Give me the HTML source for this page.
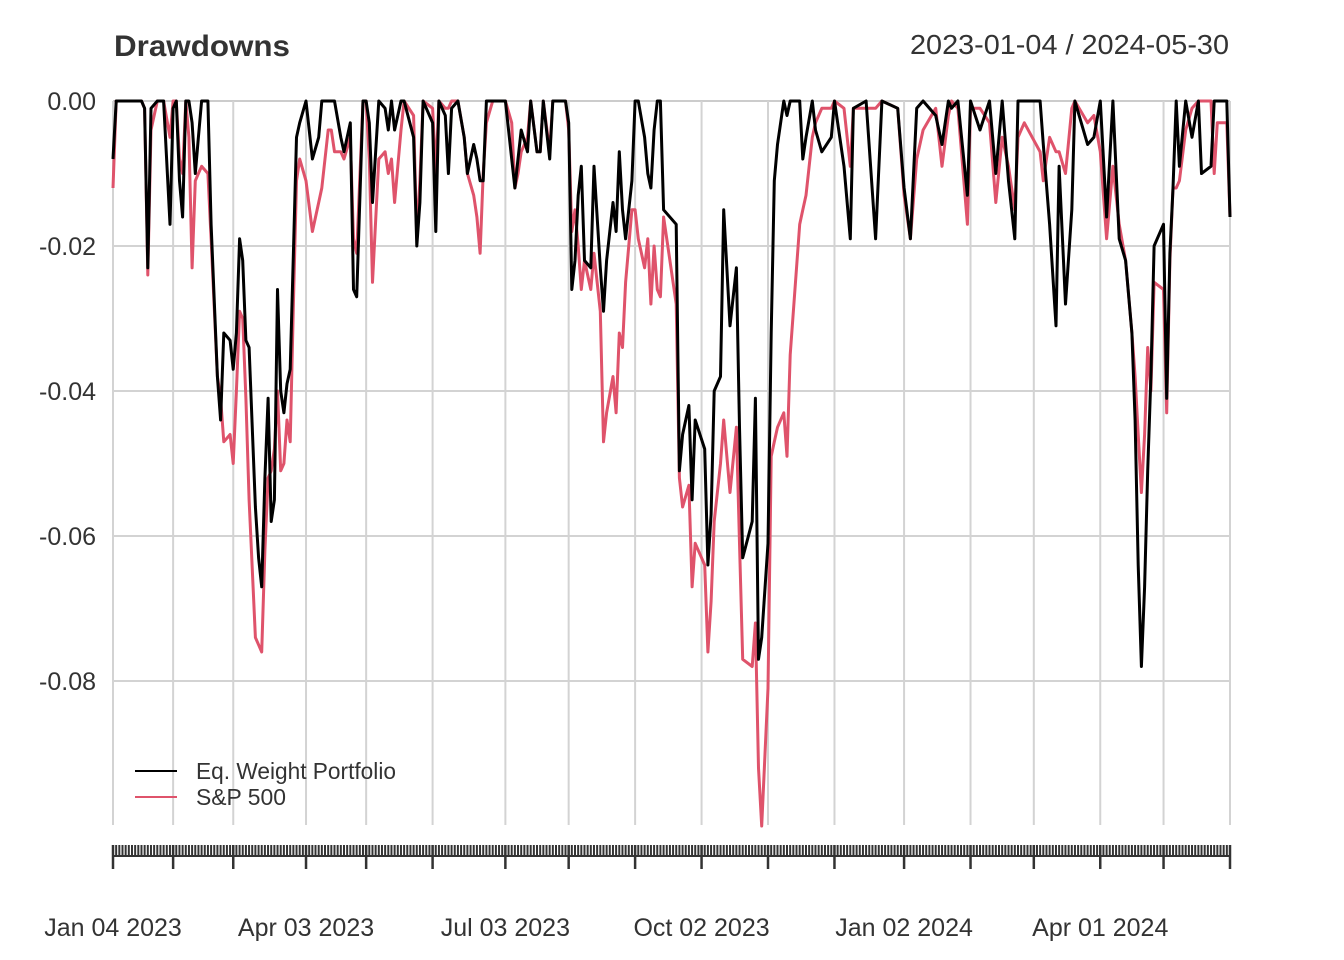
<!DOCTYPE html>
<html><head><meta charset="utf-8">
<style>
html,body{margin:0;padding:0;background:#fff;}
svg{display:block;font-family:"Liberation Sans",Arial,sans-serif;}
</style></head>
<body>
<svg id="chart" width="1344" height="960" viewBox="0 0 1344 960" xmlns="http://www.w3.org/2000/svg">
<text x="114" y="56" font-size="30" font-weight="bold" fill="#333" textLength="176" lengthAdjust="spacingAndGlyphs">Drawdowns</text>
<text x="1229" y="54" font-size="28" fill="#333" text-anchor="end" textLength="319" lengthAdjust="spacingAndGlyphs">2023-01-04 / 2024-05-30</text>
<g id="grid"></g><g id="series"></g><g id="axes"></g>
<g>
<line x1="135" y1="771" x2="177" y2="771" stroke="#000" stroke-width="2"/>
<text x="196" y="779" font-size="23" fill="#333" textLength="200" lengthAdjust="spacingAndGlyphs">Eq. Weight Portfolio</text>
<line x1="135" y1="797" x2="177" y2="797" stroke="#DF536B" stroke-width="2"/>
<text x="196" y="805" font-size="23" fill="#333" textLength="90" lengthAdjust="spacingAndGlyphs">S&amp;P 500</text>
</g>
</svg>
<script>
const days=[0,1,9,10,11,12,14,16,18,19,20,21,22,23,24,25,26,27,28,30,31,33,34,35,37,38,39,40,41,42,43,45,46,47,48,49,50,51,52,53,54,55,56,57,58,59,61,63,65,66,68,69,70,72,73,75,76,77,79,80,81,82,84,86,87,88,89,91,92,
95,96,97,98,101,102,103,105,106,107,109,111,112,114,115,116,117,118,120,124,126,127,128,129,131,132,134,135,136,138,139,143,144,145,146,147,148,149,151,152,154,155,156,158,159,160,161,162,164,165,166,168,169,170,171,172,173,
174,178,179,180,182,183,184,187,188,189,190,192,193,195,197,198,199,202,203,204,205,207,208,209,210,212,213,214,217,218,219,221,222,224,227,228,231,233,234,238,241,243,248,250,252,254,256,260,262,264,
265,267,270,271,274,277,279,281,283,285,286,288,293,294,296,298,299,301,303,304,308,310,312,314,316,318,320,322,323,324,325,326,327,328,329,332,333,334,335,336,337,339,341,343,344,347,348,349,352,353];
const eqWeight=[-0.008,0,0,-0.001,-0.023,-0.001,0,0,-0.017,-0.001,0,-0.011,-0.016,0,0,-0.003,-0.010,-0.005,0,0,-0.017,-0.038,-0.044,-0.032,-0.033,-0.037,-0.032,-0.019,-0.022,-0.033,-0.034,-0.056,-0.063,-0.067,-0.052,-0.041,-0.058,-0.055,-0.026,-0.040,-0.043,-0.039,-0.037,-0.021,-0.005,-0.003,0,-0.008,-0.005,0,0,0,0,-0.005,-0.007,-0.003,-0.026,-0.027,0,0,-0.003,-0.014,0,-0.001,-0.004,0,-0.004,0,0,
-0.005,-0.020,-0.014,0,-0.003,-0.018,0,-0.002,-0.010,-0.001,0,-0.005,-0.010,-0.006,-0.008,-0.011,-0.011,0,0,0,-0.008,-0.012,-0.008,-0.004,-0.007,0,-0.007,-0.007,0,-0.008,0,0,-0.003,-0.026,-0.022,-0.013,-0.009,-0.022,-0.023,-0.009,-0.023,-0.029,-0.022,-0.014,-0.018,-0.007,-0.015,-0.019,-0.011,0,0,-0.005,-0.010,-0.012,-0.004,0,0,
-0.015,-0.017,-0.051,-0.046,-0.042,-0.055,-0.044,-0.048,-0.064,-0.057,-0.040,-0.038,-0.015,-0.031,-0.023,-0.045,-0.063,-0.058,-0.041,-0.077,-0.074,-0.061,-0.032,-0.011,-0.006,0,-0.002,0,0,-0.008,-0.005,0,-0.004,-0.007,-0.005,0,-0.009,-0.019,-0.001,0,-0.019,0,-0.001,-0.012,-0.019,-0.001,0,-0.002,-0.006,0,
-0.001,0,-0.013,0,-0.004,0,-0.010,0,-0.011,-0.019,0,0,0,-0.006,-0.017,-0.031,-0.009,-0.028,-0.015,0,-0.006,-0.005,0,-0.016,0,-0.019,-0.022,-0.032,-0.044,-0.064,-0.078,-0.067,-0.051,-0.038,-0.020,-0.017,-0.041,-0.021,-0.012,0,-0.009,0,-0.005,0,-0.010,-0.009,0,0,0,-0.016];
const sp500=[-0.012,0,0,-0.001,-0.024,-0.004,0,0,-0.005,0,0,-0.008,-0.010,0,-0.005,-0.023,-0.011,-0.010,-0.009,-0.010,-0.019,-0.038,-0.041,-0.047,-0.046,-0.050,-0.040,-0.029,-0.030,-0.041,-0.055,-0.074,-0.075,-0.076,-0.062,-0.052,-0.051,-0.048,-0.040,-0.051,-0.050,-0.044,-0.047,-0.028,-0.011,-0.008,-0.011,-0.018,-0.014,-0.012,-0.004,-0.004,-0.007,-0.007,-0.008,-0.005,-0.019,-0.021,0,0,-0.008,-0.025,-0.008,-0.007,-0.010,-0.008,-0.014,-0.004,0,
-0.002,-0.019,-0.011,0,-0.001,-0.010,0,-0.001,-0.001,0,0,-0.005,-0.010,-0.013,-0.016,-0.021,-0.010,-0.003,0,0,-0.003,-0.012,-0.010,-0.007,-0.005,0,-0.007,-0.007,0,-0.007,0,0,-0.004,-0.018,-0.015,-0.020,-0.026,-0.022,-0.026,-0.021,-0.029,-0.047,-0.043,-0.038,-0.043,-0.032,-0.034,-0.025,-0.015,-0.015,-0.019,-0.023,-0.019,-0.028,-0.020,-0.026,-0.027,
-0.016,-0.028,-0.052,-0.056,-0.053,-0.067,-0.061,-0.064,-0.076,-0.069,-0.058,-0.050,-0.044,-0.054,-0.045,-0.061,-0.077,-0.078,-0.072,-0.092,-0.100,-0.081,-0.049,-0.047,-0.045,-0.043,-0.049,-0.035,-0.017,-0.015,-0.013,-0.005,-0.003,-0.001,-0.001,0,-0.001,-0.009,-0.001,-0.001,-0.001,0,-0.001,-0.013,-0.019,-0.008,-0.004,-0.001,-0.009,-0.002,
0,-0.001,-0.017,-0.001,-0.001,-0.003,-0.014,-0.005,-0.009,-0.015,-0.005,-0.003,-0.007,-0.011,-0.005,-0.007,-0.007,-0.010,-0.001,0,-0.003,-0.002,-0.007,-0.019,-0.009,-0.017,-0.022,-0.032,-0.038,-0.046,-0.054,-0.046,-0.034,-0.040,-0.025,-0.026,-0.043,-0.022,-0.012,-0.012,-0.011,-0.004,-0.001,0,0,0,-0.010,-0.003,-0.003,-0.016];
const yTicks=[0,-0.02,-0.04,-0.06,-0.08];
const yTickLabels=["0.00","-0.02","-0.04","-0.06","-0.08"];
const monthStarts=[0,19,38,61,80,101,124,144,165,186,207,228,250,271,291,312,332,353];
const xLabelDays=[0,61,124,186,250,312];
const xLabels=["Jan 04 2023","Apr 03 2023","Jul 03 2023","Oct 02 2023","Jan 02 2024","Apr 01 2024"];
const nDays=354;

const NS="http://www.w3.org/2000/svg";
const X0=113,X1=1230,Y0=101,YB=825;
const xs=d=>X0+d*(X1-X0)/(nDays-1);
const ys=v=>Y0-v*7250;
function mk(tag,attrs,parent){const e=document.createElementNS(NS,tag);for(const k in attrs)e.setAttribute(k,attrs[k]);parent.appendChild(e);return e;}
const grid=document.getElementById('grid'),series=document.getElementById('series'),axes=document.getElementById('axes');
yTicks.forEach((v,i)=>{
  const l=mk('line',{x1:X0,x2:X1,y1:ys(v),y2:ys(v),stroke:i===0?'#bbb':'#d3d3d3','stroke-width':i===0?1.5:2},grid);
  
  
  const t=mk('text',{x:96,y:ys(v)+9,'font-size':25,'text-anchor':'end',fill:'#333'},axes);
  t.textContent=yTickLabels[i];
  
  
});
monthStarts.forEach(d=>{
  const l=mk('line',{x1:xs(d),x2:xs(d),y1:Y0,y2:YB,stroke:'#d3d3d3','stroke-width':2},grid);
  
  
  const t=mk('line',{x1:xs(d),x2:xs(d),y1:845,y2:869,stroke:'#333','stroke-width':2.5},axes);
  
  
});
const ax=mk('line',{x1:X0,x2:X1,y1:856,y2:856,stroke:'#333','stroke-width':2},axes);


for(let d=0;d<nDays;d++){
  const t=mk('line',{x1:xs(d),x2:xs(d),y1:845,y2:856,stroke:'#333','stroke-width':2},axes);
  
  
}
xLabelDays.forEach((d,i)=>{
  const t=mk('text',{x:xs(d),y:936,'font-size':25,'text-anchor':'middle',fill:'#333'},axes);
  t.textContent=xLabels[i];
  
  
});
function path(vals,color,name){
  const d=days.map((dd,i)=>(i?'L':'M')+xs(dd).toFixed(1)+' '+ys(vals[i]).toFixed(1)).join(' ');
  const p=mk('path',{d:d,fill:'none',stroke:color,'stroke-width':3,'stroke-linejoin':'round'},series);
  
  
}
path(sp500,'#DF536B','sp500-line');
path(eqWeight,'#000000','eq-weight-line');
</script>
</body></html>
